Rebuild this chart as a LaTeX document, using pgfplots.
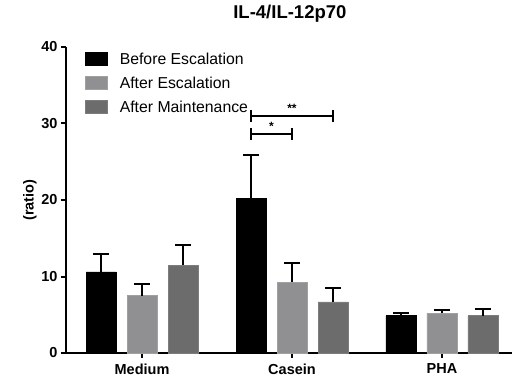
\documentclass[border=0pt]{standalone}
\usepackage{fontspec}
\setmainfont{Liberation Sans}
\usepackage{pgfplots}
\pgfplotsset{compat=1.18}
\definecolor{lgray}{RGB}{144,144,147}
\definecolor{lgrayedge}{RGB}{160,160,162}
\definecolor{dgray}{RGB}{108,108,108}
\definecolor{dgrayedge}{RGB}{125,125,125}
\begin{document}
\begin{tikzpicture}
\useasboundingbox (0,0) rectangle (514pt,378pt);
\begin{axis}[
  at={(66pt,25pt)}, anchor=south west,
  scale only axis, width=446pt, height=306pt,
  xmin=-0.507, xmax=2.467, ymin=0, ymax=40,
  axis x line=bottom, axis y line=left,
  axis line style={-, line width=2pt},
  xtick={0,1,2}, xticklabels={Medium,Casein,PHA},
  ytick={0,10,20,30,40},
  tick align=outside, major tick length=5pt,
  tick style={line width=2pt, black},
  /pgf/number format/assume math mode=true,
  ticklabel style={font=\fontsize{14.5pt}{16pt}\selectfont\bfseries},
  xticklabel style={yshift=-2pt},
  ylabel={(ratio)},
  ylabel style={at={(axis description cs:-0.081,0.5)}, anchor=center, font=\fontsize{14.5pt}{16pt}\selectfont\bfseries},
  title={IL-4/IL-12p70},
  title style={at={(axis description cs:0.502,1.089)}, anchor=center, font=\fontsize{18.5pt}{20pt}\selectfont\bfseries},
  ybar, bar width=30pt,
  legend style={at={(axis description cs:0.043,0.988)}, anchor=north west, draw=none, fill=none,
    font=\fontsize{15.8pt}{18pt}\selectfont, row sep=7pt, inner sep=0pt, cells={anchor=west}},
  legend image code/.code={\path[#1] (0pt,-6.5pt) rectangle (22pt,6.5pt); \path[draw=none, fill=none] (32pt,0pt) circle (0pt);},
  error bars/error bar style={line width=2pt, black, solid},
  error bars/error mark options={line width=2pt, draw=black, mark size=8pt, solid},
]
\addplot[bar shift=-41pt, fill=black, draw=black, line width=0.8pt,
  error bars/.cd, y dir=plus, y explicit, error mark=|]
  coordinates {(0,10.6) +- (0,2.3) (1,20.2) +- (0,5.7) (2,4.9) +- (0,0.37)};
\addlegendentry{Before Escalation}
\addplot[bar shift=0pt, fill=lgray, draw=lgrayedge, line width=0.8pt,
  error bars/.cd, y dir=plus, y explicit, error mark=|]
  coordinates {(0,7.5) +- (0,1.56) (1,9.24) +- (0,2.46) (2,5.19) +- (0,0.43)};
\addlegendentry{After Escalation}
\addplot[bar shift=41pt, fill=dgray, draw=dgrayedge, line width=0.8pt,
  error bars/.cd, y dir=plus, y explicit, error mark=|]
  coordinates {(0,11.5) +- (0,2.6) (1,6.67) +- (0,1.79) (2,4.88) +- (0,0.87)};
\addlegendentry{After Maintenance}
% significance brackets
\draw[black, line width=2pt] (axis cs:0.7267,27.8) -- (axis cs:0.7267,29.4);
\draw[black, line width=2pt] (axis cs:0.7267,28.6) -- (axis cs:1.0,28.6);
\draw[black, line width=2pt] (axis cs:1.0,27.8) -- (axis cs:1.0,29.4);
\draw[black, line width=2pt] (axis cs:0.7267,30.2) -- (axis cs:0.7267,31.8);
\draw[black, line width=2pt] (axis cs:0.7267,31.0) -- (axis cs:1.2733,31.0);
\draw[black, line width=2pt] (axis cs:1.2733,30.2) -- (axis cs:1.2733,31.8);
\node[font=\fontsize{12pt}{14pt}\selectfont\bfseries] at (axis cs:0.8633,29.6) {*};
\node[font=\fontsize{12pt}{14pt}\selectfont\bfseries] at (axis cs:1.0,32.0) {**};
\end{axis}
\end{tikzpicture}
\end{document}
